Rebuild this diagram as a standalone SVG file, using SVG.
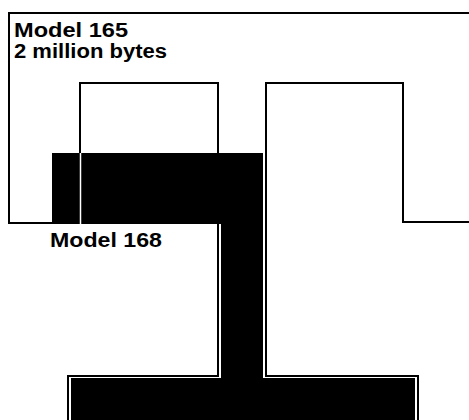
<svg xmlns="http://www.w3.org/2000/svg" width="469" height="420" viewBox="0 0 469 420">
<style>
.outline{fill:none;stroke:#000;stroke-width:2;stroke-linejoin:miter}
.lbl{font-family:"Liberation Sans",Arial,sans-serif;font-weight:bold;font-size:20px;fill:#000}
</style>
<rect x="0" y="0" width="469" height="420" fill="#fff"/>
<g id="model165">
<path class="outline" d="M469,13 H9 V223 H80 V83 H218 V376 H68 V420"/>
<path class="outline" d="M469,222 H403 V83 H266 V376 H418 V420"/>
<text class="lbl" x="14" y="37" textLength="114" lengthAdjust="spacingAndGlyphs">Model 165</text>
<text class="lbl" x="14" y="58" textLength="153" lengthAdjust="spacingAndGlyphs">2 million bytes</text>
</g>
<g id="model168">
<path d="M52,153 H263 V378 H415 V420 H71 V378 H221 V224 H52 Z" fill="#000"/>
<line x1="80.5" y1="153" x2="80.5" y2="224" stroke="#fff" stroke-width="1.5"/>
<text class="lbl" x="50" y="247" textLength="112" lengthAdjust="spacingAndGlyphs">Model 168</text>
</g>
<g id="connectors"/>
</svg>
